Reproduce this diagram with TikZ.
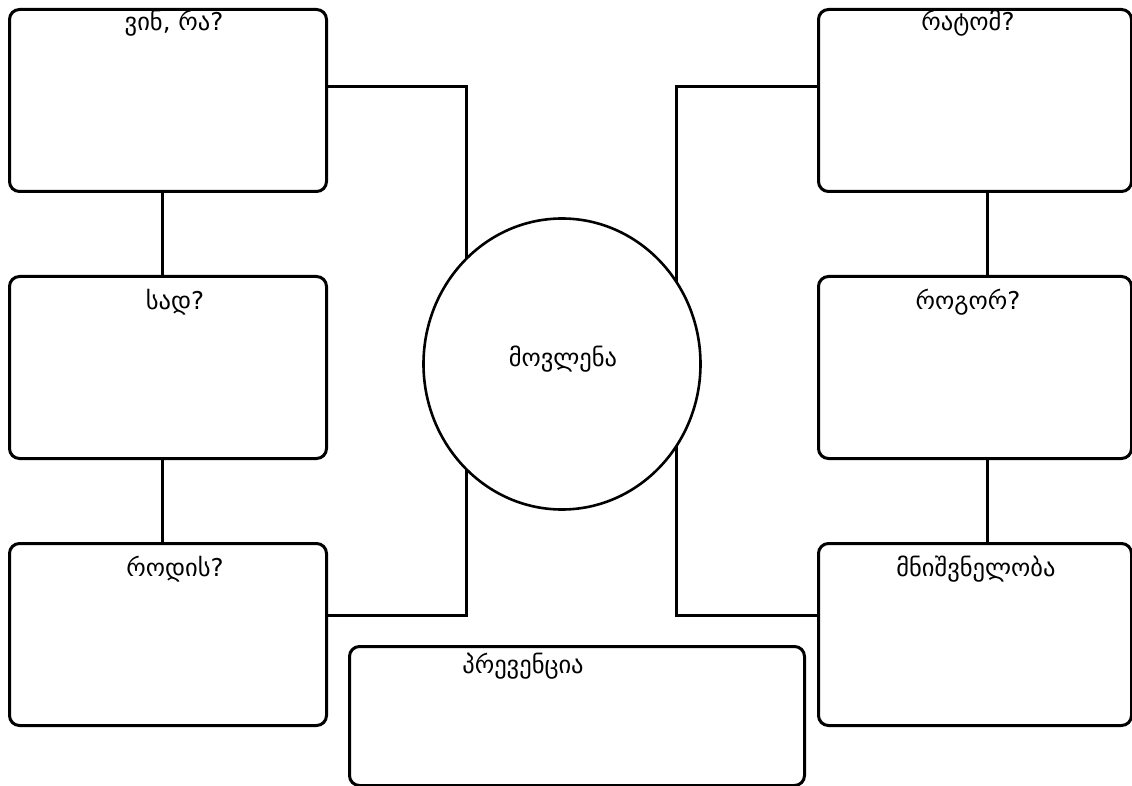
\documentclass[tikz,border=0pt]{standalone}
\usepackage{fontspec}
\usetikzlibrary{shapes.geometric}
\newfontfamily\geo{DejaVu Sans}
\begin{document}
\begin{tikzpicture}[x=1pt,y=-1pt,
  boxst/.style={draw,line width=3pt,rounded corners=10pt,inner sep=0pt,anchor=north west},
  lbl/.style={font=\geo\fontsize{24.5}{28}\selectfont,inner sep=0pt,anchor=base},
  conn/.style={line width=3pt}]
\useasboundingbox (0,0) rectangle (1132,786);
% left boxes
\node[boxst,minimum width=317pt,minimum height=182pt] (l1) at (8,8) {};
\node[boxst,minimum width=317pt,minimum height=182pt] (l2) at (8,275) {};
\node[boxst,minimum width=317pt,minimum height=182pt] (l3) at (8,542) {};
% right boxes
\node[boxst,minimum width=313pt,minimum height=182pt] (r1) at (817,8) {};
\node[boxst,minimum width=313pt,minimum height=182pt] (r2) at (817,275) {};
\node[boxst,minimum width=313pt,minimum height=182pt] (r3) at (817,542) {};
% bottom box
\node[boxst,minimum width=455pt,minimum height=139pt] (bt) at (348,645) {};
% connectors
\coordinate (lt) at (466,87);
\coordinate (lb) at (466,615);
\coordinate (rt) at (676,87);
\coordinate (rb) at (676,615);
\draw[conn] (l1.east |- lt) -- (lt) -- (lb) -- (l3.east |- lb);
\draw[conn] (r1.west |- rt) -- (rt) -- (rb) -- (r3.west |- rb);
\draw[conn] (l1.south -| 162,0) -- (l2.north -| 162,0);
\draw[conn] (l2.south -| 162,0) -- (l3.north -| 162,0);
\draw[conn] (r1.south -| 987,0) -- (r2.north -| 987,0);
\draw[conn] (r2.south -| 987,0) -- (r3.north -| 987,0);
% circle
\node[draw,fill=white,ellipse,line width=2.6pt,minimum width=277pt,minimum height=291pt,inner sep=0pt] (c) at (562,364) {};
\node[lbl] (ct) at (563,366) {მოვლენა};
% labels
\node[lbl] (t1) at (174,31) {ვინ, რა?};
\node[lbl] (t2) at (175,309) {სად?};
\node[lbl] (t3) at (175,576) {როდის?};
\node[lbl] (t4) at (968,31) {რატომ?};
\node[lbl] (t5) at (968,309) {როგორ?};
\node[lbl] (t6) at (976,576) {მნიშვნელობა};
\node[lbl] (t7) at (523,673) {პრევენცია};
\end{tikzpicture}
\end{document}
